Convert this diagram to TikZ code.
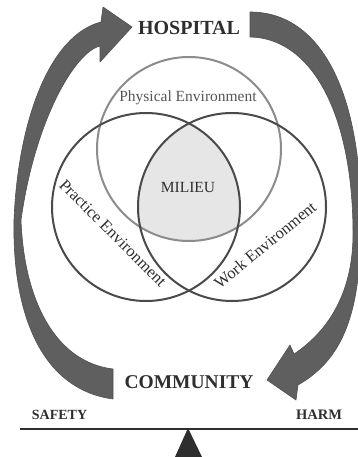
\documentclass[tikz,border=0pt]{standalone}
\usepackage{fontspec}
\setmainfont{Liberation Serif}
\definecolor{arrowgray}{HTML}{5F5F5F}
\definecolor{arrowedge}{HTML}{505050}
\definecolor{ringdark}{HTML}{4A4A4A}
\definecolor{ringlight}{HTML}{8C8C8C}
\definecolor{milieufill}{HTML}{E6E6E6}
\definecolor{textdark}{HTML}{2E2E2E}
\definecolor{textmid}{HTML}{555555}
\begin{document}
\begin{tikzpicture}[x=1pt,y=-1pt,
  ringbase/.style={circle, line width=2pt, inner sep=0pt},
  bigarrow/.style={fill=arrowgray, draw=arrowedge, line width=0.6pt, line join=round},
  biglabel/.style={text=textdark, font=\fontsize{20}{24}\selectfont\bfseries, inner sep=0pt},
  envlabel/.style={text=textdark, inner sep=0pt},
  scalelabel/.style={text=textdark, font=\fontsize{14}{16}\selectfont\bfseries, inner sep=0pt}]
\useasboundingbox (0,0) rectangle (358,457);

% shaded triple intersection
\begin{scope}
  \clip (146,207) circle[radius=94];
  \clip (232,207) circle[radius=94];
  \fill[milieufill] (189,149) circle[radius=92];
\end{scope}

% circles
\node[ringbase, draw=ringlight, minimum size=184pt] (phys) at (189,149) {};
\node[ringbase, draw=ringdark, minimum size=188pt] (prac) at (146,207) {};
\node[ringbase, draw=ringdark, minimum size=188pt] (work) at (232,207) {};

% left arrow (community -> hospital)
\path[bigarrow] (113,399) .. controls (45,390) and (12,320) .. (14,220)
  .. controls (18,120) and (50,35) .. (101,22) -- (103,7) -- (132,27) -- (100,62) -- (100,46)
  .. controls (75,52) and (35,120) .. (21,220)
  .. controls (24,300) and (55,362) .. (113,369) -- cycle;

% right arrow (hospital -> community)
\path[bigarrow] (250,12) .. controls (320,12) and (361,90) .. (361,220)
  .. controls (361,310) and (345,358) .. (298,385) -- (296,400) -- (267,380) -- (290,345) -- (294,354)
  .. controls (330,330) and (354,290) .. (353,230)
  .. controls (352,110) and (310,38) .. (250,37) -- cycle;

% labels
\node[biglabel] (hospital) at (189,28) {HOSPITAL};
\node[biglabel, font=\fontsize{19.5}{23}\selectfont\bfseries] (community) at (189,382) {COMMUNITY};
\node[envlabel, text=textmid, font=\fontsize{15.5}{18}\selectfont] (physlabel) at (188,98) {Physical Environment};
\node[envlabel, font=\fontsize{15.5}{18}\selectfont] (milieu) at (188,188) {MILIEU};
\node[envlabel, font=\fontsize{16.5}{19}\selectfont, rotate=-45] (praclabel) at (113,233) {Practice Environment};
\node[envlabel, font=\fontsize{16.5}{19}\selectfont, rotate=39.5] (worklabel) at (265,245) {Work Environment};
\node[scalelabel] (safety) at (59.5,415) {SAFETY};
\node[scalelabel, font=\fontsize{14.5}{16}\selectfont\bfseries] (harm) at (319,415) {HARM};

% balance
\coordinate (beamL) at (20,429);
\coordinate (beamR) at (358,429);
\coordinate (pivot) at (188,428);
\draw[textdark, line width=2.5pt] (beamL) -- (beamR);
\fill[textdark] (pivot) -- (202,457) -- (175,457) -- cycle;
\end{tikzpicture}
\end{document}
